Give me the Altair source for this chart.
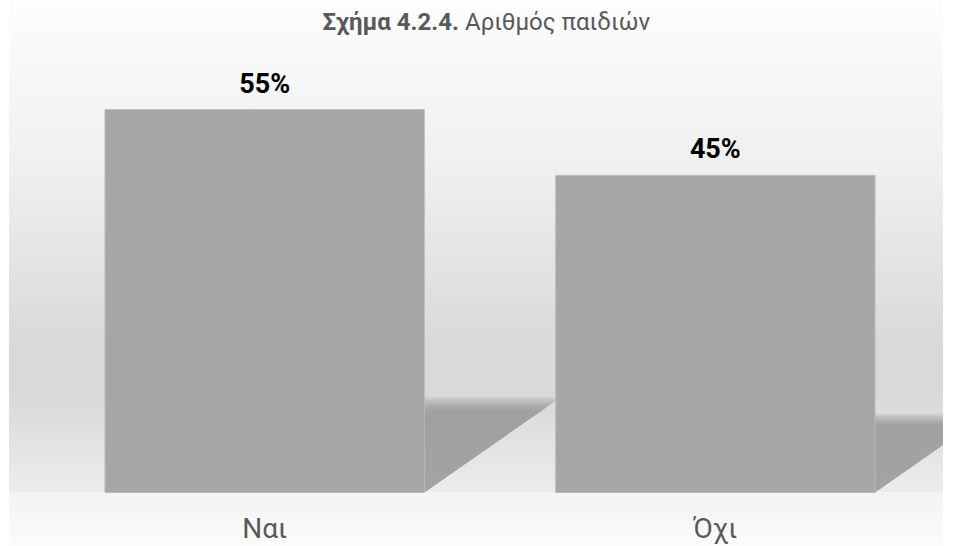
import altair as alt
import pandas as pd

# ---- data ----
categories = ["Ναι", "Όχι"]
values = [54.7, 45.3]          # bar heights (%)
labels = ["55%", "45%"]        # printed labels
title_bold = "Σχήμα 4.2.4."
title_rest = "Αριθμός παιδιών"

# ---- layout / style constants ----
W, H = 958, 546
FONT = "Roboto, Liberation Sans, sans-serif"
HALF = 0.3542                      # half bar width in category units
X_DOMAIN = [-0.5872, 1.5384]
Y_DOMAIN = [-7.64, 70.36]
PLOT_L, PLOT_R = 9, 943            # visible wall/floor edges (px)
SHADOW_H = 0.235                   # shadow height as fraction of value
SHADOW_X = 0.00523                 # shadow horizontal reach per % value
BLUR = [0.90 + 0.018 * k for k in range(10)]   # soft-edge passes

x_edge = X_DOMAIN[0] + (X_DOMAIN[1] - X_DOMAIN[0]) * PLOT_R / W

idx = list(range(len(categories)))
bars = pd.DataFrame({
    "cat": categories,
    "idx": idx,
    "left": [i - HALF for i in idx],
    "right": [i + HALF for i in idx],
    "value": values,
    "zero": [0.0] * len(idx),
    "label": labels,
})

sh_rows = []
for c, i, v in zip(categories, idx, values):
    r = i + HALF
    for k, f in enumerate(BLUR):
        key = f"{c}-{k}"
        top = v * SHADOW_H * f
        ext = v * SHADOW_X * f
        sh_rows.append({"key": key, "x": r, "top": top, "bot": 0.0})
        if r + ext <= x_edge:
            sh_rows.append({"key": key, "x": r + ext, "top": top, "bot": top})
        else:
            sh_rows.append({"key": key, "x": x_edge, "top": top,
                            "bot": top * (x_edge - r) / ext})
shadows = pd.DataFrame(sh_rows)

xs = alt.Scale(domain=X_DOMAIN, nice=False, zero=False)
ys = alt.Scale(domain=Y_DOMAIN, nice=False, zero=False)

wall_df = pd.DataFrame({"top": [Y_DOMAIN[1]], "bot": [0.0]})
floor_df = pd.DataFrame({"top": [0.0], "bot": [Y_DOMAIN[0]]})
title_df = pd.DataFrame({"b": [title_bold], "r": [title_rest]})

wall = alt.Chart(wall_df).mark_rect(
    fill=alt.Gradient(
        gradient="linear", x1=0, x2=0, y1=0, y2=1,
        stops=[
            alt.GradientStop(color="#fdfdfd", offset=0),
            alt.GradientStop(color="#efefef", offset=0.35),
            alt.GradientStop(color="#d9d9d9", offset=0.70),
            alt.GradientStop(color="#d9d9d9", offset=0.80),
            alt.GradientStop(color="#ececec", offset=1),
        ],
    )
).encode(
    x=alt.value(PLOT_L), x2=alt.value(PLOT_R),
    y=alt.Y("top:Q", scale=ys, axis=None), y2="bot:Q",
)

floor = alt.Chart(floor_df).mark_rect(
    fill=alt.Gradient(
        gradient="linear", x1=0, x2=0, y1=0, y2=1,
        stops=[
            alt.GradientStop(color="#f3f3f3", offset=0),
            alt.GradientStop(color="#fbfbfb", offset=1),
        ],
    )
).encode(
    x=alt.value(PLOT_L), x2=alt.value(PLOT_R),
    y=alt.Y("top:Q", scale=ys, axis=None), y2="bot:Q",
)

shadow = alt.Chart(shadows).mark_area(
    clip=True, opacity=0.12, fill="#8f8f8f",
).encode(
    x=alt.X("x:Q", scale=xs, axis=None),
    y=alt.Y("top:Q", scale=ys, axis=None),
    y2="bot:Q",
    detail="key:N",
)

bar = alt.Chart(bars).mark_rect(
    fill="#a6a6a6", stroke="#bababa", strokeWidth=1
).encode(
    x=alt.X("left:Q", scale=xs, axis=None),
    x2="right:Q",
    y=alt.Y("value:Q", scale=ys, axis=None),
    y2="zero:Q",
)

val_text = alt.Chart(bars).mark_text(
    font=FONT, fontSize=27, fontWeight="bold", color="#000000",
    baseline="alphabetic", align="center", dy=-17,
).encode(
    x=alt.X("idx:Q", scale=xs, axis=None),
    y=alt.Y("value:Q", scale=ys, axis=None),
    text="label:N",
)

cat_text = alt.Chart(bars).mark_text(
    font=FONT, fontSize=28, color="#595959",
    baseline="alphabetic", align="center",
).encode(
    x=alt.X("idx:Q", scale=xs, axis=None),
    y=alt.value(538),
    text="cat:N",
)

t1 = alt.Chart(title_df).mark_text(
    font=FONT, fontSize=24, fontWeight="bold", color="#595959",
    baseline="alphabetic", align="right",
).encode(x=alt.value(459), y=alt.value(30), text="b:N")

t2 = alt.Chart(title_df).mark_text(
    font=FONT, fontSize=24, color="#595959",
    baseline="alphabetic", align="left",
).encode(x=alt.value(465), y=alt.value(30), text="r:N")

chart = alt.layer(wall, floor, shadow, bar, val_text, cat_text, t1, t2).properties(
    width=W, height=H,
    autosize=alt.AutoSizeParams(type="none"),
    padding=0,
    background="white",
).configure_view(stroke=None)

chart.save("out.html", embed_options={"renderer": "svg", "actions": False})
